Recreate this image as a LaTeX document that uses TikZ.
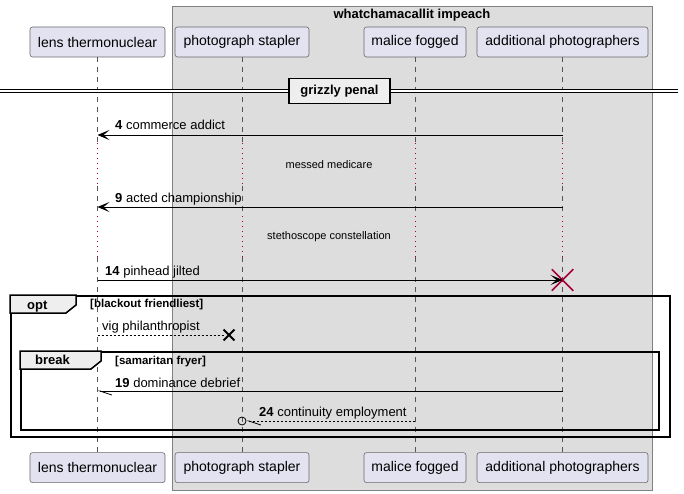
\documentclass[tikz,border=0pt]{standalone}
\usepackage{fontspec}
\setmainfont{Liberation Sans}
\usetikzlibrary{arrows.meta,positioning,shapes.misc}

\definecolor{grpfill}{HTML}{DDDDDD}
\definecolor{grpline}{HTML}{808080}
\definecolor{partfill}{HTML}{E2E2F0}
\definecolor{partline}{HTML}{6A6A6A}
\definecolor{lifegray}{HTML}{555555}
\definecolor{crimson}{HTML}{A80036}
\definecolor{tabfill}{HTML}{EEEEEE}

\begin{document}
\begin{tikzpicture}[x=1pt,y=-1pt]
    \tikzstyle{partbox} = [draw=partline, fill=partfill, rounded corners=2.5pt, minimum height=30pt, line width=0.6pt, font=\fontsize{14}{16}\selectfont]
    \tikzstyle{lifeline} = [lifegray, line width=0.6pt, dash pattern=on 5pt off 5pt]
    \tikzstyle{delayline} = [crimson, line width=0.8pt, dash pattern=on 1pt off 4pt]
    \tikzstyle{msgline} = [line width=0.8pt, -{Stealth[length=12pt,width=10pt,inset=6pt]}]
    \tikzstyle{replyline} = [line width=0.8pt, dash pattern=on 2pt off 2pt]
    \tikzstyle{halfbarb} = [-{Straight Barb[harpoon,length=12pt,width=8pt,line width=0.8pt]}]
    \tikzstyle{msglabel} = [anchor=base west, inner sep=0pt, font=\fontsize{13}{15}\selectfont]
    \tikzstyle{delaytext} = [inner sep=0pt, font=\fontsize{11}{13}\selectfont]
    \tikzstyle{fragbox} = [draw, line width=1.5pt, anchor=north west, inner sep=0pt]
    \tikzstyle{fragtab} = [draw, fill=tabfill, line width=1.5pt]
    \tikzstyle{fragtitle} = [anchor=base west, inner sep=0pt, font=\bfseries\fontsize{13}{15}\selectfont]
    \tikzstyle{fragcond} = [anchor=base west, inner sep=0pt, font=\bfseries\fontsize{11.5}{13}\selectfont]
    \tikzstyle{killx} = [cross out, draw=crimson, line width=1.5pt, minimum size=20pt, inner sep=0pt]
    \tikzstyle{lostx} = [cross out, draw, line width=1.8pt, minimum size=9pt, inner sep=0pt]

    \useasboundingbox (0,0) rectangle (684,494);

    % box round the last three participants
    \fill[grpfill, draw=grpline, line width=0.8pt] (172,6) rectangle (652,490);
    \node [font=\bfseries\fontsize{13}{15}\selectfont] (grp) at (412,15) {whatchamacallit impeach};

    % participants, top and bottom
    \node [partbox, minimum width=135pt] (lt) at (97.5,42) {lens thermonuclear};
    \node [partbox, minimum width=134pt] (ps) at (242,42) {photograph stapler};
    \node [partbox, minimum width=102pt] (mf) at (415,42) {malice fogged};
    \node [partbox, minimum width=171pt] (ap) at (562.5,42) {additional photographers};
    \node [partbox, minimum width=135pt, below=395pt of lt] (lt2) {lens thermonuclear};
    \node [partbox, minimum width=134pt, below=395pt of ps] (ps2) {photograph stapler};
    \node [partbox, minimum width=102pt, below=395pt of mf] (mf2) {malice fogged};
    \node [partbox, minimum width=171pt, below=395pt of ap] (ap2) {additional photographers};

    % delay bounds
    \coordinate (d1a) at (0,143);
    \coordinate (d1b) at (0,186);
    \coordinate (d2a) at (0,216);
    \coordinate (d2b) at (0,257);

    \foreach \p in {lt,ps,mf,ap} {
        \draw [lifeline] (\p) -- (\p |- d1a);
        \draw [delayline] (\p |- d1a) -- (\p |- d1b);
        \draw [lifeline] (\p |- d1b) -- (\p |- d2a);
        \draw [delayline] (\p |- d2a) -- (\p |- d2b);
        \draw [lifeline] (\p |- d2b) -- (\p2);
    }

    % divider
    \draw [double, double distance=2.5pt, line width=1pt] (0,91) -- (678,91);
    \node [draw, fill=tabfill, line width=1.5pt, minimum width=101pt, minimum height=25pt, inner sep=0pt,
        font=\bfseries\fontsize{13}{15}\selectfont] (div) at (339.5,91) {grizzly penal};

    % messages
    \coordinate (m4) at (0,135);
    \coordinate (m9) at (0,207);
    \coordinate (m14) at (0,280);
    \coordinate (mv) at (0,335);
    \coordinate (m19) at (0,391);
    \coordinate (m24) at (0,421);

    \draw [msgline] (ap |- m4) -- (lt |- m4);
    \node [msglabel] (l4) at (115,130) {\textbf{4} commerce addict};
    \node [delaytext] (dl1) at (329,165) {messed medicare};
    \draw [msgline] (ap |- m9) -- (lt |- m9);
    \node [msglabel] (l9) at (115,202) {\textbf{9} acted championship};
    \node [delaytext] (dl2) at (329,237) {stethoscope constellation};

    \node [killx] (x14) at (ap |- m14) {};
    \draw [msgline] (lt |- m14) -- (x14.center);
    \node [msglabel] (l14) at (105,275) {\textbf{14} pinhead jilted};

    % opt fragment
    \node [fragbox, minimum width=659pt, minimum height=141pt] (opt) at (10,295) {};
    \draw [fragtab] (opt.north west) -- ++(66,0) -- ++(0,10) -- ++(-10,8) -- ++(-56,0) -- cycle;
    \node [fragtitle] (optt) at (27,309) {opt};
    \node [fragcond] (optc) at (90,307) {[blackout friendliest]};

    \node [lostx] (xv) at (229,335) {};
    \draw [replyline] (lt |- mv) -- (xv);
    \node [msglabel] (lv) at (102,330) {vig philanthropist};

    % break fragment
    \node [fragbox, minimum width=638pt, minimum height=78pt] (brk) at (20,351) {};
    \draw [fragtab] (brk.north west) -- ++(81,0) -- ++(0,10) -- ++(-10,8) -- ++(-71,0) -- cycle;
    \node [fragtitle] (brkt) at (35,364) {break};
    \node [fragcond] (brkc) at (115,364) {[samaritan fryer]};

    \draw [line width=0.8pt, halfbarb] (ap |- m19) -- (lt |- m19);
    \node [msglabel] (l19) at (115,387) {\textbf{19} dominance debrief};

    \node [circle, draw, line width=0.8pt, minimum size=8pt, inner sep=0pt] (c24) at (ps |- m24) {};
    \draw [replyline, halfbarb] (mf |- m24) -- (c24);
    \node [msglabel] (l24) at (259,416) {\textbf{24} continuity employment};
\end{tikzpicture}
\end{document}
